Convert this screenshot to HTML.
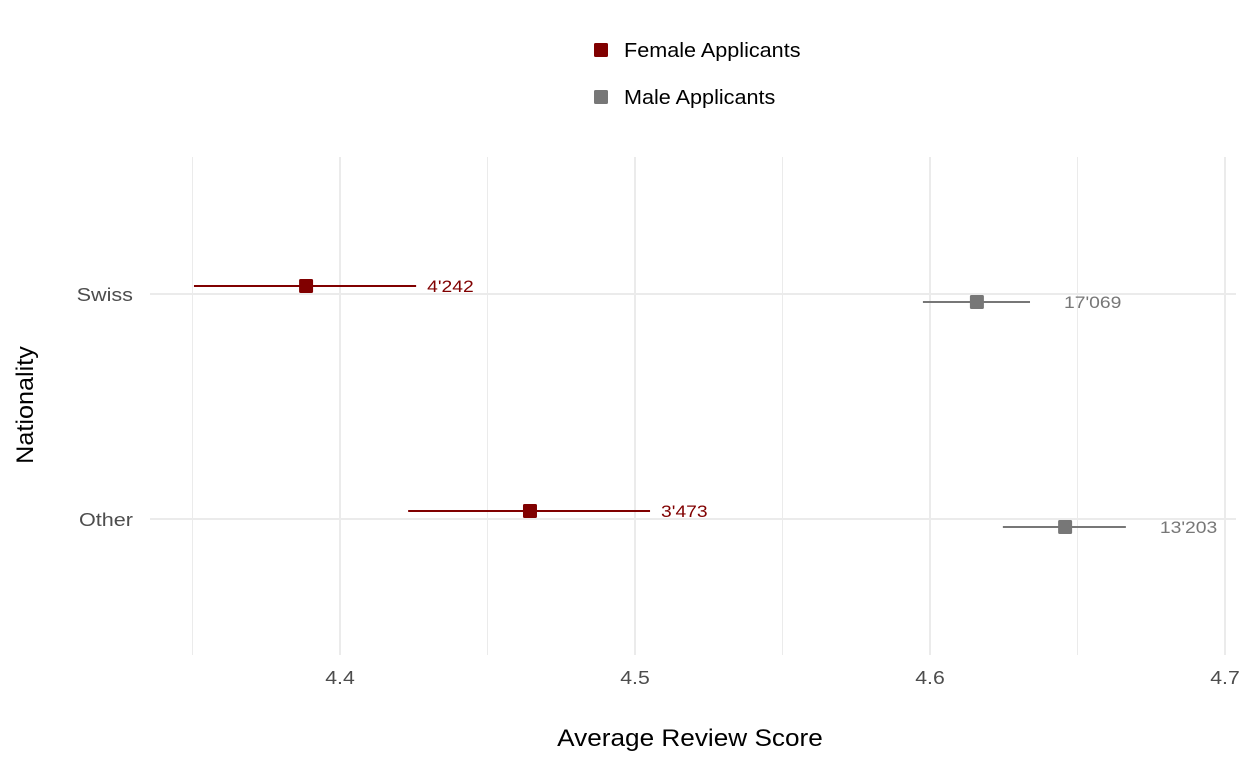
<!DOCTYPE html>
<html><head><meta charset="utf-8"><style>
body{margin:0;background:#fff;font-family:"Liberation Sans",sans-serif}
</style></head><body>
<svg id="chart" width="1248" height="768" xmlns="http://www.w3.org/2000/svg" font-family="Liberation Sans, sans-serif"></svg>
<script>
const categories=["Swiss","Other"];
const femaleMean=[4.3885,4.4644];
const femaleLow=[4.3505,4.4231];
const femaleHigh=[4.4258,4.5051];
const femaleN=["4'242","3'473"];
const maleMean=[4.6159,4.6458];
const maleLow=[4.5976,4.6247];
const maleHigh=[4.6339,4.6664];
const maleN=["17'069","13'203"];
const xTicks=[4.4,4.5,4.6,4.7];
const xMinor=[4.35,4.45,4.55,4.65];

const svg=document.getElementById('chart');
const NS="http://www.w3.org/2000/svg";
function x(v){return 340+(v-4.4)*2950;}
function y(i){return [294,519][i];}
function mk(tag,attrs,text){const e=document.createElementNS(NS,tag);for(const k in attrs)e.setAttribute(k,attrs[k]);if(text!==undefined)e.textContent=text;svg.appendChild(e);return e;}
function widen(t,f){const w=t.getComputedTextLength();t.setAttribute('textLength',(w*f).toFixed(1));t.setAttribute('lengthAdjust','spacingAndGlyphs');}
xMinor.forEach(v=>{const l=mk('line',{x1:x(v),x2:x(v),y1:157,y2:655,stroke:'#ebebeb','stroke-width':1});

});
xTicks.forEach(v=>{const l=mk('line',{x1:x(v),x2:x(v),y1:157,y2:655,stroke:'#ebebeb','stroke-width':2});


const t=mk('text',{x:x(v),y:684,'text-anchor':'middle','font-size':18,fill:'#4d4d4d'},v.toFixed(1));


widen(t,1.18);});
categories.forEach((c,i)=>{const l=mk('line',{x1:150,x2:1236,y1:y(i),y2:y(i),stroke:'#ebebeb','stroke-width':2});


const t=mk('text',{x:133,y:y(i)+7,'text-anchor':'end','font-size':18,fill:'#4d4d4d'},c);


widen(t,1.2);});
function series(mean,lo,hi,n,color,dy,off,name){
categories.forEach((c,i)=>{const yy=y(i)+dy;
const l=mk('line',{x1:x(lo[i]),x2:x(hi[i]),y1:yy,y2:yy,stroke:color,'stroke-width':2});


const p=mk('rect',{x:x(mean[i])-7,y:yy-7,width:14,height:14,fill:color,rx:1.5});


const t=mk('text',{x:x(hi[i])+off,y:yy+6,'font-size':16.5,fill:color},n[i]);


widen(t,1.17);});}
series(femaleMean,femaleLow,femaleHigh,femaleN,'#800000',-8,11,'female');
series(maleMean,maleLow,maleHigh,maleN,'#777777',8,34,'male');
const lg=[["Female Applicants",'#800000',50],["Male Applicants",'#777777',97]];
lg.forEach(e=>{const r=mk('rect',{x:594,y:e[2]-7,width:14,height:14,fill:e[1],rx:1.5});


const t=mk('text',{x:624,y:e[2]+7,'font-size':20,fill:'#000'},e[0]);


widen(t,1.08);});
const xt=mk('text',{x:690,y:746,'text-anchor':'middle','font-size':24,fill:'#000'},'Average Review Score');


widen(xt,1.09);
const yt=mk('text',{x:0,y:0,transform:'translate(33,405) rotate(-90)','text-anchor':'middle','font-size':24,fill:'#000'},'Nationality');


widen(yt,1.05);
</script>
</body></html>
